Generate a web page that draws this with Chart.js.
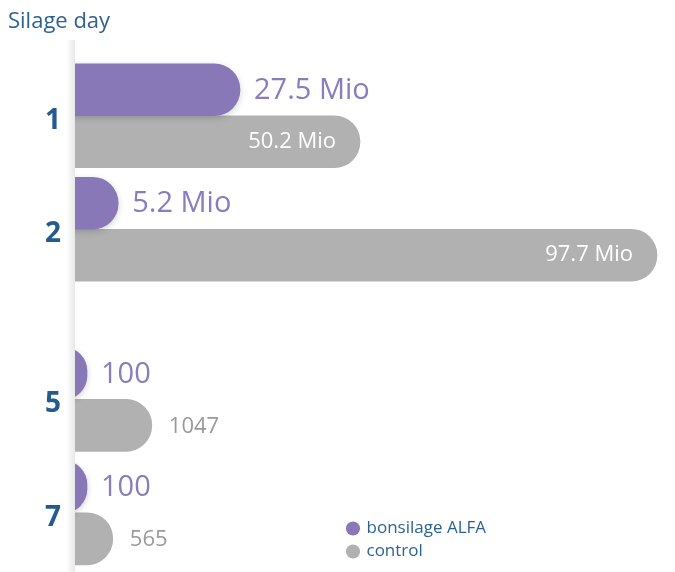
<!DOCTYPE html>
<html>
<head>
<meta charset="utf-8">
<script src="https://cdn.jsdelivr.net/npm/chart.js@4.4.1/dist/chart.umd.min.js"></script>
<style>
  html, body { margin: 0; padding: 0; background: #fff; }
</style>
</head>
<body>
<canvas id="chart" width="675" height="572"></canvas>
<script>
'use strict';

/* ── data (blank slots keep the gap between day 2 and day 5) ── */
const dayLabels   = ['1', '', '2', '', '', '5', '', '7'];
const alfaBar     = [27.5, null, 7.2, null, null, 2, null, 2];
const controlBar  = [47.5, null, 97, null, null, 12.8, null, 6.3];
const alfaText    = ['27.5 Mio', '', '5.2 Mio', '', '', '100', '', '100'];
const controlText = ['50.2 Mio', '', '97.7 Mio', '', '', '1047', '', '565'];

/* ── styles ── */
const PURPLE = '#8878b7', GREY = '#b1b1b1', BLUE = '#245b8d', LIGHT_BLUE = '#2d6394';
const FONT = "'Open Sans', sans-serif";

/* light shadow strip along the axis */
const axisShade = {
  id: 'axisShade',
  beforeDatasetsDraw(chart) {
    const {ctx, chartArea} = chart, x = chartArea.left;
    const g = ctx.createLinearGradient(x - 9, 0, x, 0);
    g.addColorStop(0, 'rgba(0,0,0,0)');
    g.addColorStop(1, 'rgba(0,0,0,0.09)');
    ctx.save();
    ctx.fillStyle = g;
    ctx.fillRect(x - 9, 40, 9, chart.height - 40);
    ctx.restore();
  }
};

/* soft drop shadow under the purple bars */
const barShadow = {
  id: 'barShadow',
  beforeDatasetDraw(chart, args) {
    if (args.index !== 0) return;
    const ctx = chart.ctx;
    ctx.save();
    ctx.shadowColor = 'rgba(0,0,0,0.18)';
    ctx.shadowBlur = 6;
    ctx.shadowOffsetY = 2;
  },
  afterDatasetDraw(chart, args) {
    if (args.index === 0) chart.ctx.restore();
  }
};

/* value labels next to / inside the bars */
const valueLabels = {
  id: 'valueLabels',
  afterDatasetsDraw(chart) {
    const {ctx, chartArea} = chart;
    ctx.save();
    ctx.textBaseline = 'middle';
    chart.getDatasetMeta(0).data.forEach((bar, i) => {
      if (!alfaText[i]) return;
      ctx.font = `29px ${FONT}`;
      ctx.fillStyle = '#8a7cbd';
      ctx.textAlign = 'left';
      ctx.fillText(alfaText[i], bar.x + 14, bar.y + 1);
    });
    chart.getDatasetMeta(1).data.forEach((bar, i) => {
      const t = controlText[i];
      if (!t) return;
      ctx.font = `22px ${FONT}`;
      const w = ctx.measureText(t).width;
      if (bar.x - chartArea.left > w + 50) {
        ctx.fillStyle = '#fff'; ctx.textAlign = 'right';
        ctx.fillText(t, bar.x - 24, bar.y);
      } else {
        ctx.fillStyle = '#9a9a9a'; ctx.textAlign = 'left';
        ctx.fillText(t, bar.x + 17, bar.y + 1);
      }
    });
    ctx.restore();
  }
};

/* legend sits bottom-right inside the plot */
const legendPlace = {
  id: 'legendPlace',
  afterLayout(chart) {
    const lg = chart.legend;
    lg.left = 342; lg.right = 675; lg.top = 490; lg.bottom = 566;
    lg.width = lg.right - lg.left; lg.height = lg.bottom - lg.top;
  }
};

const barCommon = {
  base: -6,
  barThickness: 52,
  borderRadius: 40,
  borderSkipped: 'start',
  clip: {left: 0, top: false, right: false, bottom: false}
};

new Chart(document.getElementById('chart'), {
  type: 'bar',
  data: {
    labels: dayLabels,
    datasets: [
      {label: 'bonsilage ALFA', data: alfaBar, backgroundColor: PURPLE, ...barCommon},
      {label: 'control', data: controlBar, backgroundColor: GREY, ...barCommon}
    ]
  },
  options: {
    responsive: false,
    animation: false,
    indexAxis: 'y',
    layout: {padding: {left: 8, right: 0, top: 0, bottom: 26}},
    scales: {
      x: {display: false, min: 0, max: 100},
      y: {
        grid: {display: false, drawTicks: false},
        border: {display: false},
        ticks: {color: BLUE, padding: 14, labelOffset: 5, font: {family: FONT, size: 28, weight: 'bold'}},
        afterFit: s => { s.width = 67; }
      }
    },
    plugins: {
      title: {
        display: true, text: 'Silage day', align: 'start', color: LIGHT_BLUE,
        font: {family: FONT, size: 22, weight: 'normal'},
        padding: {top: 9, bottom: 52}
      },
      legend: {
        position: 'chartArea', align: 'end',
        labels: {
          usePointStyle: true, pointStyle: 'circle', boxWidth: 10, boxHeight: 10,
          padding: 6, color: LIGHT_BLUE, font: {family: FONT, size: 17}
        }
      },
      tooltip: {enabled: false}
    }
  },
  plugins: [axisShade, barShadow, valueLabels, legendPlace]
});
</script>
</body>
</html>
